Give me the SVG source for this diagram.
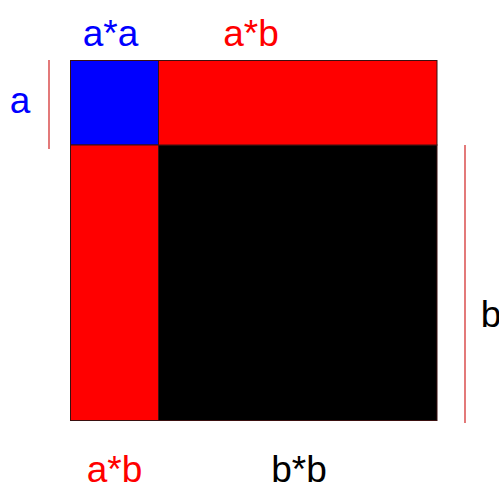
<svg xmlns="http://www.w3.org/2000/svg" width="499" height="487" viewBox="0 0 499 487">
<style>
text{font-family:"Liberation Sans",Arial,sans-serif;font-size:37px;text-anchor:middle}
.blue{fill:#0000ff}.red{fill:#ff0000}.blk{fill:#000}
.cell{stroke:#3a1010;stroke-width:1}
.dim{stroke:#d02020;stroke-width:1.2}
</style>
<rect width="499" height="487" fill="#fff"/>
<g id="bb"><rect class="cell" x="158.5" y="145" width="278.5" height="275.5" fill="#000"/></g>
<g id="aa"><rect class="cell" x="70.5" y="60.5" width="88" height="84.5" fill="#0000ff"/></g>
<g id="ab-top"><rect class="cell" x="158.5" y="60.5" width="278.5" height="84.5" fill="#ff0000"/></g>
<g id="ab-left"><rect class="cell" x="70.5" y="145" width="88" height="275.5" fill="#ff0000"/></g>
<g id="connectors">
<line class="dim" x1="49" y1="60" x2="49" y2="149"/>
<line class="dim" x1="465" y1="145" x2="465" y2="423"/>
</g>
<g id="labels">
<text class="blue" x="110.5" y="46">a*a</text>
<text class="red" x="251" y="46">a*b</text>
<text class="blue" x="20" y="113">a</text>
<text class="blk" x="491" y="327">b</text>
<text class="red" x="114.5" y="482">a*b</text>
<text class="blk" x="299" y="482">b*b</text>
</g>
</svg>
